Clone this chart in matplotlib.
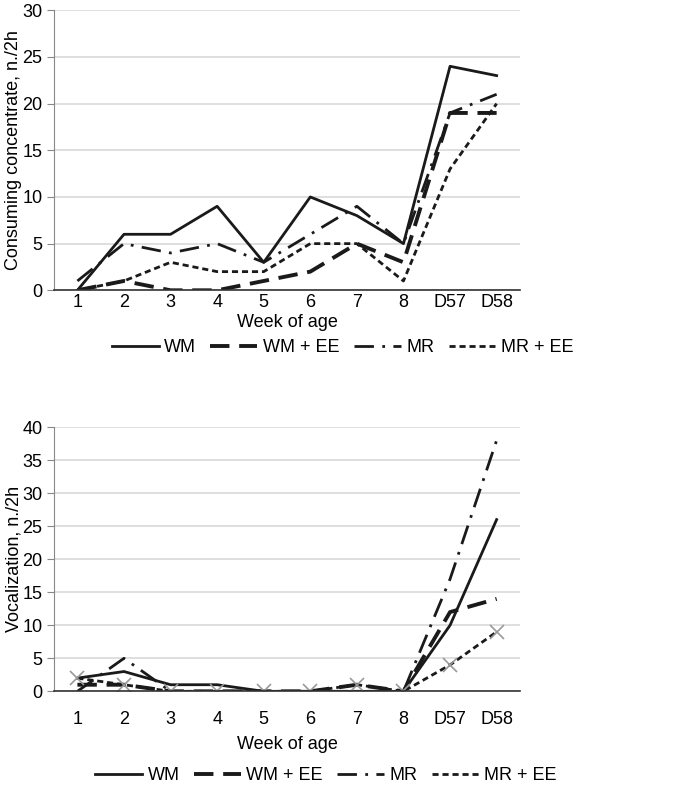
import matplotlib
matplotlib.use("Agg")
import matplotlib.pyplot as plt

plt.rcParams['font.family'] = ['Liberation Sans Narrow', 'Liberation Sans', 'DejaVu Sans']

weeks = ["1", "2", "3", "4", "5", "6", "7", "8", "D57", "D58"]

# consuming concentrate, n./2h
cons_wm = [0, 6, 6, 9, 3, 10, 8, 5, 24, 23]
cons_wm_ee = [0, 1, 0, 0, 1, 2, 5, 3, 19, 19]
cons_mr = [1, 5, 4, 5, 3, 6, 9, 5, 19, 21]
cons_mr_ee = [0, 1, 3, 2, 2, 5, 5, 1, 13, 20]

# vocalization, n./2h
voc_wm = [2, 3, 1, 1, 0, 0, 0, 0, 10, 26]
voc_wm_ee = [1, 1, 0, 0, 0, 0, 1, 0, 12, 14]
voc_mr = [0, 5, 0, 0, 0, 0, 0, 0, 17, 38]
voc_mr_ee = [2, 1, 0, 0, 0, 0, 1, 0, 4, 9]

labels = ["WM", "WM + EE", "MR", "MR + EE"]
styles = [
    dict(linestyle="-", lw=2.0),
    dict(linestyle=(0, (5, 2.5)), lw=2.8),
    dict(linestyle=(0, (7, 3, 1, 3)), lw=2.0),
    dict(linestyle=(0, (2.2, 1.4)), lw=2.0),
]

fig = plt.figure(figsize=(6.85, 7.91), dpi=100)
ax1 = fig.add_axes([0.079, 0.633, 0.68, 0.354])
ax2 = fig.add_axes([0.079, 0.126, 0.68, 0.334])

x = list(range(len(weeks)))


def style_axes(ax, ymax, ylabel, pad, labelpad):
    ax.set_xlim(-0.5, len(weeks) - 0.5)
    ax.set_ylim(0, ymax)
    ax.set_yticks(range(0, ymax + 1, 5))
    ax.set_xticks(x)
    ax.set_xticklabels(weeks)
    ax.grid(axis="y", color="#d9d9d9", lw=1.2)
    ax.set_axisbelow(True)
    for s in ["top", "right"]:
        ax.spines[s].set_visible(False)
    ax.spines["left"].set_color("#888888")
    ax.spines["bottom"].set_color("#333333")
    ax.spines["bottom"].set_linewidth(1.2)
    ax.tick_params(axis="x", length=0, pad=pad, labelsize=13)
    ax.tick_params(axis="y", length=5, color="#888888", labelsize=13)
    ax.set_ylabel(ylabel, fontsize=13)
    ax.yaxis.set_label_coords(-0.068, 0.5)
    ax.set_xlabel("Week of age", fontsize=13, labelpad=labelpad)


leg_kw = dict(loc="center", ncol=4, frameon=False, fontsize=13,
              handlelength=2.6, handletextpad=0.3, columnspacing=0.8)

series1 = [cons_wm, cons_wm_ee, cons_mr, cons_mr_ee]
for ys, lab, st in zip(series1, labels, styles):
    ax1.plot(x, ys, color="#1a1a1a", label=lab, **st)
style_axes(ax1, 30, "Consuming concentrate, n./2h", 3, 2)
h1, l1 = ax1.get_legend_handles_labels()
fig.legend(h1, l1, bbox_to_anchor=(0.5, 1 - 348 / 791), **leg_kw)

series2 = [voc_wm, voc_wm_ee, voc_mr, voc_mr_ee]
for i, (ys, lab, st) in enumerate(zip(series2, labels, styles)):
    if i == 3:
        ax2.plot(x, ys, color="#1a1a1a", label=lab, marker="x", markersize=10,
                 markeredgecolor="#999999", markeredgewidth=1.2, **st)
    else:
        ax2.plot(x, ys, color="#1a1a1a", label=lab, **st)
style_axes(ax2, 40, "Vocalization, n./2h", 14, 6)
h2, l2 = ax2.get_legend_handles_labels()
leg = fig.legend(h2, l2, bbox_to_anchor=(0.476, 1 - 776 / 791), **leg_kw)
for h in leg.legend_handles:
    h.set_marker("")

fig.savefig("out.png", dpi=100)
plt.close(fig)
